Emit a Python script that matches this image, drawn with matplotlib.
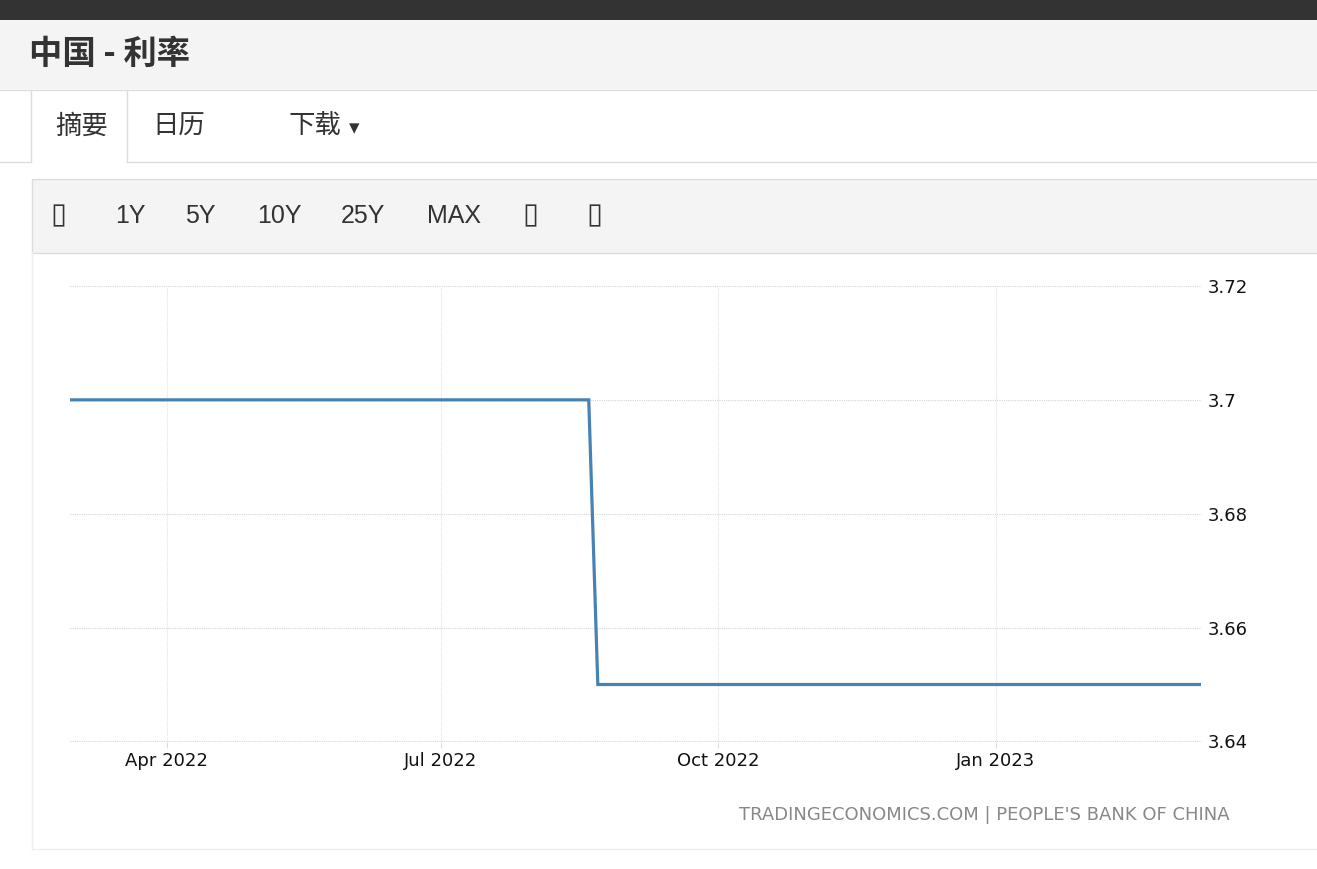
import numpy as np
import pandas as pd
import matplotlib
matplotlib.use("Agg")
import matplotlib.pyplot as plt
import matplotlib.dates as mdates
from matplotlib.patches import Rectangle
from matplotlib.ticker import FuncFormatter

# data (LPR 1 year, step down in Aug 2022)
dates = pd.to_datetime(["2022-02-28", "2022-08-19", "2022-08-22", "2023-03-10"])
rates = [3.70, 3.70, 3.65, 3.65]
y_ticks = [3.64, 3.66, 3.68, 3.70, 3.72]

title = "中国 - 利率"
tabs = ["摘要", "日历", "下载"]
ranges = ["1Y", "5Y", "10Y", "25Y", "MAX"]
source = "TRADINGECONOMICS.COM | PEOPLE'S BANK OF CHINA"

W, H = 1317, 869
cjk = ["Noto Sans CJK SC", "DejaVu Sans"]

fig = plt.figure(figsize=(W / 100, H / 100), dpi=100)
fig.patch.set_facecolor("white")

# page background drawn in pixel coordinates
bg = fig.add_axes([0, 0, 1, 1], zorder=0)
bg.set_xlim(0, W)
bg.set_ylim(H, 0)
bg.axis("off")

border = "#dddddd"
bg.add_patch(Rectangle((0, 0), W, 20, color="#333333", lw=0))
bg.add_patch(Rectangle((0, 20), W, 69, color="#f4f4f4", lw=0))
bg.plot([0, W], [89.5, 89.5], color=border, lw=1)
bg.text(29, 54, title, fontsize=24, fontweight="bold", color="#333333",
        family=cjk, va="center", ha="left")

# tab row
bg.plot([30.5, 30.5], [90, 161], color=border, lw=1)
bg.plot([126.5, 126.5], [90, 161], color=border, lw=1)
bg.plot([0, 30.5], [161.5, 161.5], color=border, lw=1)
bg.plot([126.5, W], [161.5, 161.5], color=border, lw=1)
for x, t in zip([55, 152, 289], tabs):
    bg.text(x, 126, t, fontsize=19, color="#333333", family=cjk,
            va="center", ha="left")
bg.text(349, 128, "\u25BE", fontsize=15, color="#333333",
        family="DejaVu Sans", va="center", ha="left")

# range toolbar
bg.add_patch(Rectangle((31.5, 178.5), W, 74, facecolor="#f4f4f4",
                       edgecolor=border, lw=1))
for x, t in zip([115, 185, 257, 341, 427], ranges):
    bg.text(x, 216, t, fontsize=18, color="#333333", family="Liberation Sans",
            va="center", ha="left")
for x in [58, 530, 594]:
    bg.text(x, 215, "\u25AF", fontsize=21, color="#333333",
            family="DejaVu Sans", va="center", ha="center")

# chart panel frame
bg.plot([31.5, 31.5], [252, 848.5], color="#eeeeee", lw=1)
bg.plot([31.5, W], [848.5, 848.5], color="#eeeeee", lw=1)

# chart
left, right, top, bottom = 70, 1201, 286, 742
ax = fig.add_axes([left / W, 1 - bottom / H, (right - left) / W, (bottom - top) / H],
                  zorder=1)
ax.patch.set_alpha(0)
ax.plot(dates, rates, color="#4682b4", lw=2.3, solid_joinstyle="miter")

ax.set_xlim(pd.Timestamp("2022-02-28"), pd.Timestamp("2023-03-10"))
ax.set_ylim(3.6399, 3.72)
ax.set_yticks(y_ticks)
ax.yaxis.set_major_formatter(FuncFormatter(lambda v, p: f"{v:g}"))
ax.yaxis.tick_right()
ax.xaxis.set_major_locator(mdates.MonthLocator(bymonth=[1, 4, 7, 10]))
ax.xaxis.set_major_formatter(mdates.DateFormatter("%b %Y"))

for s in ax.spines.values():
    s.set_visible(False)
ax.tick_params(axis="y", length=0, pad=4.5, labelsize=13, labelcolor="#111111")
ax.tick_params(axis="x", length=4.5, width=0.8, color="#dddddd", pad=3,
               labelsize=13, labelcolor="#111111")
ax.grid(axis="y", color="#d4d4d4", linestyle=(0, (1, 1)), lw=0.8)
ax.grid(axis="x", color="#e2e2e2", linestyle=(0, (1, 1)), lw=0.8)
ax.set_axisbelow(True)

fig.text(1230 / W, 1 - 815 / H, source, fontsize=13, color="#888888",
         family="DejaVu Sans", ha="right", va="center")

fig.savefig("out.png", dpi=100)
